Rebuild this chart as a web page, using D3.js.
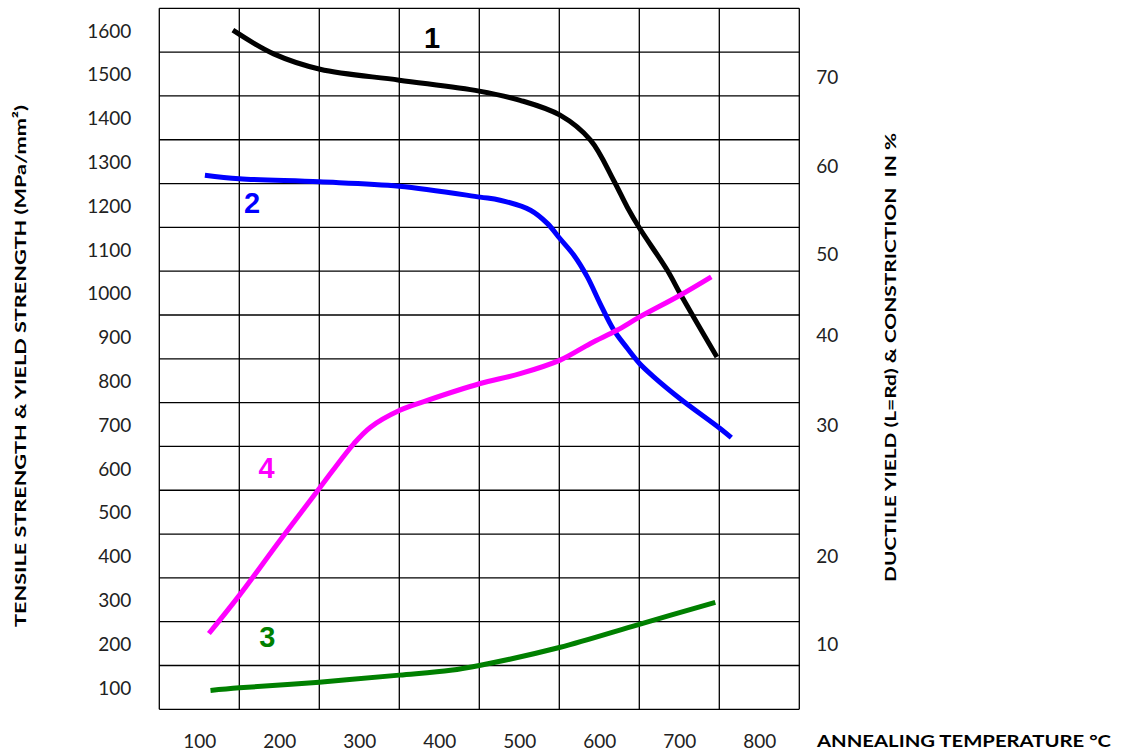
<!DOCTYPE html>
<html>
<head>
<meta charset="utf-8">
<script src="https://cdn.jsdelivr.net/npm/d3@7"></script>
<style>
  html, body { margin: 0; padding: 0; background: #fff; }
  svg { display: block; }
  text { white-space: pre; }
</style>
</head>
<body>
<svg id="chart" width="1123" height="755"></svg>
<script>
// ---- data ----
const xTickLabels = [100, 200, 300, 400, 500, 600, 700, 800];
const yTickLabels = [1600, 1500, 1400, 1300, 1200, 1100, 1000, 900, 800, 700, 600, 500, 400, 300, 200, 100];
const rightTickLabels = [70, 60, 50, 40, 30, 20, 10];
const rightTickAt = [1495, 1290, 1090, 905, 700, 400, 200]; // left-axis equivalents

// curve 1: tensile strength
const tensileT = [142, 193, 251, 350, 450, 501, 551, 589, 618, 635, 650, 685, 701, 718, 747];
const tensileV = [1600, 1546, 1511, 1486, 1461, 1440, 1406, 1349, 1257, 1196, 1149, 1052, 999, 945, 854];
// curve 2: yield strength
const yieldT = [107, 150, 250, 350, 451, 476, 514, 535, 551, 568, 585, 601, 618, 635, 650, 668, 701, 751, 765];
const yieldV = [1269, 1261, 1254, 1244, 1219, 1212, 1189, 1159, 1124, 1087, 1037, 976, 916, 874, 840, 809, 759, 691, 670];
// curve 3: ductile yield (plotted in left-axis units)
const ductileT = [114, 150, 250, 350, 414, 450, 550, 650, 745];
const ductileV = [93, 99, 112, 128, 139, 150, 191, 244, 294];
// curve 4: constriction (plotted in left-axis units)
const constrT = [112, 150, 201, 250, 293, 314, 350, 385, 450, 501, 551, 589, 622, 650, 701, 740];
const constrV = [223, 310, 436, 554, 656, 694, 732, 755, 793, 816, 847, 885, 915, 945, 995, 1037];

const series = [
  { id: "1", T: tensileT, V: tensileV, color: "#000000", labelT: 391, labelV: 1584 },
  { id: "2", T: yieldT, V: yieldV, color: "#0000ff", labelT: 166, labelV: 1207 },
  { id: "3", T: ductileT, V: ductileV, color: "#008000", labelT: 185, labelV: 216 },
  { id: "4", T: constrT, V: constrV, color: "#ff00ff", labelT: 184, labelV: 602 }
];

// ---- layout ----
const svg = d3.select("#chart");
const x = d3.scaleLinear().domain([50, 850]).range([159.3, 799.3]);
const y = d3.scaleLinear().domain([50, 1650]).range([709.3, 8.3]);

// grid
const grid = svg.append("g").attr("stroke", "#000").attr("stroke-width", 1.3).attr("fill", "none");
grid.selectAll("line.v").data(d3.range(50, 851, 100)).join("line")
  .attr("class", "v")
  .attr("x1", d => x(d)).attr("x2", d => x(d))
  .attr("y1", y(50)).attr("y2", y(1650));
grid.selectAll("line.h").data(d3.range(50, 1651, 100)).join("line")
  .attr("class", "h")
  .attr("x1", x(50)).attr("x2", x(850))
  .attr("y1", d => y(d)).attr("y2", d => y(d));

const numFont = "Lato, 'Open Sans', sans-serif";

// bottom axis
const gx = svg.append("g").attr("transform", `translate(0,${y(50)})`)
  .call(d3.axisBottom(x).tickValues(xTickLabels).tickSize(0).tickFormat(d3.format("d")));
gx.select(".domain").remove();
gx.selectAll("text").attr("y", 31.5).attr("dy", "0.36em")
  .style("font-family", numFont).style("font-size", "19px").attr("fill", "#222");

// left axis
const gy = svg.append("g").attr("transform", `translate(${x(50)},0)`)
  .call(d3.axisLeft(y).tickValues(yTickLabels).tickSize(0).tickPadding(28).tickFormat(d3.format("d")));
gy.select(".domain").remove();
gy.selectAll("text").attr("dy", "0.36em")
  .style("font-family", numFont).style("font-size", "19px").attr("fill", "#222");

// right axis
const gr = svg.append("g").attr("transform", `translate(${x(850)},0)`)
  .call(d3.axisRight(y).tickValues(rightTickAt).tickSize(0).tickPadding(17)
    .tickFormat((d, i) => rightTickLabels[i]));
gr.select(".domain").remove();
gr.selectAll("text").attr("dy", "0.36em")
  .style("font-family", numFont).style("font-size", "19px").attr("fill", "#222");

// curves
const line = d3.line().x(d => x(d[0])).y(d => y(d[1])).curve(d3.curveCatmullRom.alpha(0.5));
svg.append("g").selectAll("path").data(series).join("path")
  .attr("d", s => line(s.T.map((t, i) => [t, s.V[i]])))
  .attr("fill", "none")
  .attr("stroke", s => s.color)
  .attr("stroke-width", 5)
  .attr("stroke-linecap", "butt")
  .attr("stroke-linejoin", "round");

// curve labels
svg.append("g").selectAll("text").data(series).join("text")
  .attr("x", s => x(s.labelT)).attr("y", s => y(s.labelV))
  .attr("text-anchor", "middle").attr("dy", "0.36em")
  .style("font-family", "'Liberation Sans', Arial, sans-serif")
  .style("font-weight", "bold").style("font-size", "29px")
  .attr("fill", s => s.color)
  .text(s => s.id);

// axis titles
const titleFont = "Lato, 'Open Sans', sans-serif";
svg.append("text")
  .attr("transform", "translate(20,366) rotate(-90)")
  .attr("text-anchor", "middle").attr("dy", "0.36em")
  .attr("textLength", 522).attr("lengthAdjust", "spacingAndGlyphs")
  .style("font-family", titleFont).style("font-weight", "bold").style("font-size", "16px")
  .attr("fill", "#000")
  .text("TENSILE STRENGTH & YIELD STRENGTH (MPa/mm²)");

svg.append("text")
  .attr("transform", "translate(890,357.5) rotate(-90)")
  .attr("text-anchor", "middle").attr("dy", "0.36em")
  .attr("textLength", 449).attr("lengthAdjust", "spacingAndGlyphs")
  .style("font-family", titleFont).style("font-weight", "bold").style("font-size", "16px")
  .attr("fill", "#000")
  .text("DUCTILE YIELD (L=Rd) & CONSTRICTION  IN %");

svg.append("text")
  .attr("x", 817).attr("y", 741)
  .attr("text-anchor", "start").attr("dy", "0.36em")
  .attr("textLength", 294).attr("lengthAdjust", "spacingAndGlyphs")
  .style("font-family", titleFont).style("font-weight", "bold").style("font-size", "17px")
  .attr("fill", "#000")
  .text("ANNEALING TEMPERATURE °C");
</script>
</body>
</html>
